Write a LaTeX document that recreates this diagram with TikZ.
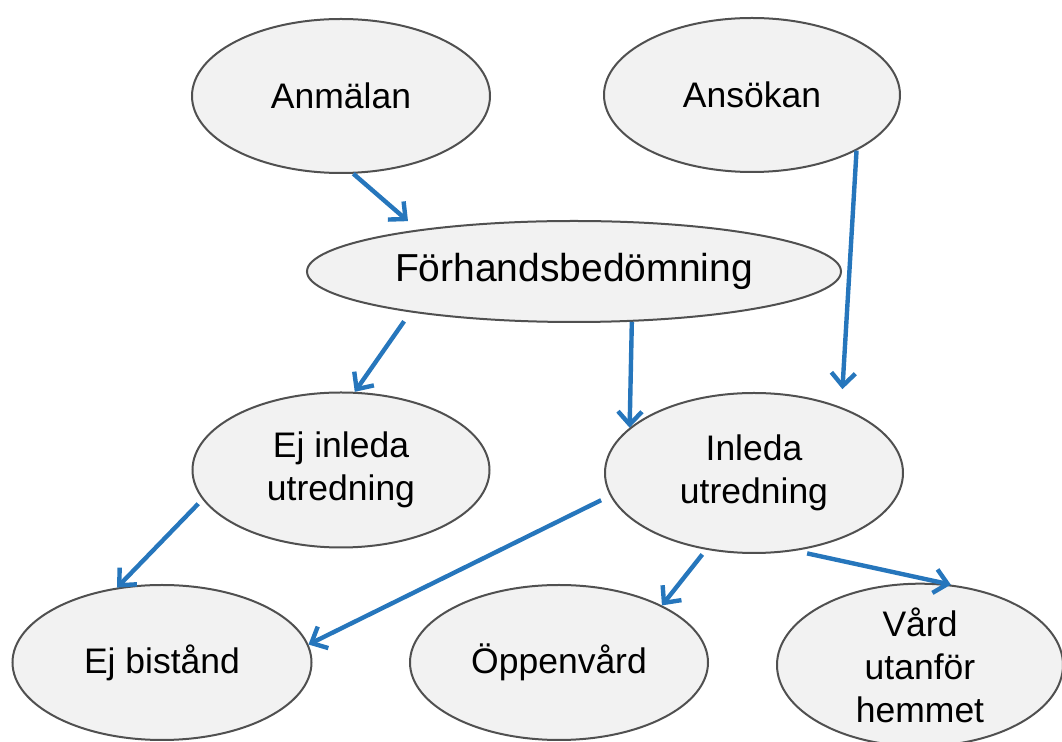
\documentclass[tikz,border=0pt]{standalone}
\usepackage{fontspec}
\setmainfont{Liberation Sans}
\usetikzlibrary{arrows.meta, shapes.geometric}
\definecolor{flowblue}{RGB}{38, 118, 188}
\definecolor{blobfill}{RGB}{242, 242, 242}
\definecolor{blobline}{RGB}{80, 80, 80}

\begin{document}
\begin{tikzpicture}[x=0.5pt, y=-0.5pt,
    font=\fontsize{17.75pt}{21.5pt}\selectfont,
    blob/.style={
        ellipse, draw=blobline, line width=1pt, fill=blobfill,
        inner sep=0pt, align=center
    },
    flow/.style={-{Straight Barb[length=6.5pt, width=12pt]}, line width=2.2pt, flowblue},
]
\useasboundingbox (0,0) rectangle (1062,742);

% ================= inkommande =================
\node[blob, minimum width=149pt, minimum height=77pt] (anm) at (341,96) {Anmälan};
\node[blob, minimum width=148pt, minimum height=77pt] (ans) at (752,95) {Ansökan};
\node[blob, minimum width=267pt, minimum height=50.5pt,
      font=\fontsize{19.5pt}{23pt}\selectfont] (forh) at (574,271.5) {Förhandsbedömning};

% ================= beslut =================
\node[blob, minimum width=148.5pt, minimum height=77.5pt] (ejinl) at (341,470) {Ej inleda\\utredning};
\node[blob, minimum width=149pt, minimum height=80pt] (inl) at (754,473) {Inleda\\utredning};

% ================= utfall =================
\node[blob, minimum width=149.5pt, minimum height=77.5pt] (ejbis) at (162,662.5) {Ej bistånd};
\node[blob, minimum width=149pt, minimum height=77.5pt] (oppen) at (559,662.5) {Öppenvård};
\node[blob, minimum width=143pt, minimum height=80pt] (vard) at (920,665) {Vård\\utanför\\hemmet};

% pilar
\draw[flow, shorten >=6.5pt] (anm.-81) -- (forh.165);
\draw[flow, shorten >=9pt] (ans.-28) -- (inl.37);
\draw[flow, shorten <=5.5pt] (forh.194) -- (ejinl.80);
\draw[flow] (forh.-41) -- (inl.160);
\draw[flow, shorten <=3pt] (ejinl.192) -- (ejbis.121);
\draw[flow, shorten <=5pt] (inl.189) -- (ejbis.7);
\draw[flow, shorten <=3pt] (inl.238) -- (oppen.29);
\draw[flow, shorten <=6pt] (inl.-62) -- (vard.69);

\end{tikzpicture}
\end{document}
